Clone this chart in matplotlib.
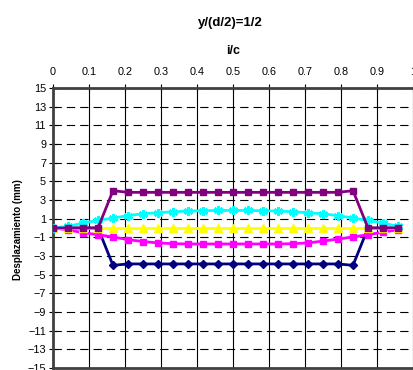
import numpy as np
import matplotlib.pyplot as plt

plt.rcParams['font.family'] = ['Liberation Sans', 'DejaVu Sans']

# ---------------------------------------------------------------
# Datos
# ---------------------------------------------------------------
i_c = [k / 24 for k in range(24)]

serie_azul = [0, 0, 0, 0, -4.0, -3.85, -3.85, -3.85, -3.85, -3.85, -3.85, -3.85,
              -3.85, -3.85, -3.85, -3.85, -3.85, -3.85, -3.85, -3.85, -4.0, 0, 0, 0]
serie_magenta = [0, -0.2, -0.5, -0.72, -0.96, -1.25, -1.45, -1.6, -1.68, -1.71, -1.71, -1.71,
                 -1.71, -1.71, -1.71, -1.71, -1.68, -1.6, -1.4, -1.18, -0.96, -0.72, -0.45, -0.18]
serie_amarilla = [0] * 24
serie_cyan = [0, 0.17, 0.53, 0.81, 1.07, 1.32, 1.53, 1.64, 1.74, 1.82, 1.85, 1.88,
              1.88, 1.88, 1.85, 1.82, 1.74, 1.64, 1.53, 1.32, 1.07, 0.81, 0.53, 0.17]
serie_morada = [0, 0, 0, 0, 4.0, 3.82, 3.82, 3.82, 3.82, 3.82, 3.82, 3.82,
                3.82, 3.82, 3.82, 3.82, 3.82, 3.82, 3.82, 3.82, 4.0, 0, 0, 0]

x_ticks = [round(0.1 * k, 1) for k in range(11)]
x_tick_labels = ["0", "0.1", "0.2", "0.3", "0.4", "0.5", "0.6", "0.7", "0.8", "0.9", "1"]
y_ticks = list(range(-15, 16, 2))

# ---------------------------------------------------------------
# Figura
# ---------------------------------------------------------------
fig = plt.figure(figsize=(4.14, 3.70), dpi=100)
ax = fig.add_axes([53 / 414, 2 / 370, 360 / 414, 280 / 370])

ax.plot(i_c, serie_azul, color="#000080", lw=2, marker="D", ms=4.5, zorder=3)
ax.plot(i_c, serie_magenta, color="#FF00FF", lw=2, marker="s", ms=5, zorder=3)
ax.plot(i_c, serie_amarilla, color="#FFFF00", lw=2, marker="^", ms=5.5, zorder=3)
ax.plot(i_c, serie_cyan, color="#00FFFF", lw=2, marker=(6, 2, 0), ms=6.5, mew=1.8, zorder=3)
ax.plot(i_c, serie_morada, color="#800080", lw=2, marker="s", ms=5, zorder=3)

ax.set_xlim(0, 1)
ax.set_ylim(-15, 15)
ax.set_xticks(x_ticks)
ax.set_xticklabels(x_tick_labels)
ax.set_yticks(y_ticks)

ax.xaxis.tick_top()
ax.tick_params(axis="both", labelsize=7.8, direction="inout", length=6, width=0.8,
               color="black", pad=2)
ax.tick_params(axis="x", pad=5)

ax.xaxis.grid(True, color="black", lw=0.8, linestyle="-")
ax.yaxis.grid(True, color="black", lw=0.8, linestyle=(0, (7.5, 4.5)))
ax.set_axisbelow(True)

for side in ["top", "left", "bottom"]:
    ax.spines[side].set_linewidth(2)
    ax.spines[side].set_color("#404040")
ax.spines["right"].set_visible(False)

fig.text(230 / 414, 1 - 23 / 370, "y/(d/2)=1/2", ha="center", va="center",
         fontsize=9.5, fontweight="bold")
fig.text(233 / 414, 1 - 51 / 370, "i/c", ha="center", va="center",
         fontsize=9, fontweight="bold")
fig.text(18 / 414, 1 - 230 / 370, "Desplazamiento (mm)", ha="center", va="center",
         rotation=90, fontsize=7, fontweight="bold")

fig.savefig("out.png", dpi=100)
